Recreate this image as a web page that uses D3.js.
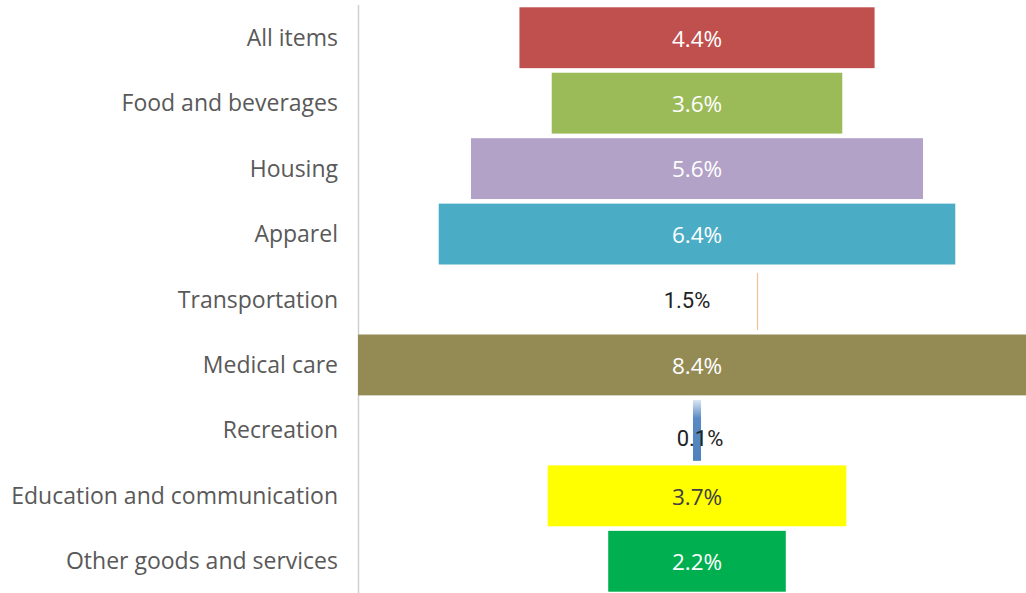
<!DOCTYPE html>
<meta charset="utf-8">
<style>
  body { margin: 0; background: #fff; }
</style>
<script src="https://d3js.org/d3.v7.min.js"></script>
<div id="my_dataviz"></div>
<script>
// data
var categories = ["All items", "Food and beverages", "Housing", "Apparel", "Transportation",
                  "Medical care", "Recreation", "Education and communication", "Other goods and services"];
var values = [4.4, 3.6, 5.6, 6.4, 1.5, 8.4, 0.1, 3.7, 2.2];
var labels = ["4.4%", "3.6%", "5.6%", "6.4%", "1.5%", "8.4%", "0.1%", "3.7%", "2.2%"];
var colors = ["#c0504d", "#9bbb59", "#b3a2c7", "#4bacc6", "#ffffff", "#948a54", "url(#recGrad)", "#ffff00", "#00b050"];

var width = 1026, height = 593, center = 697;

var svg = d3.select("#my_dataviz")
  .append("svg")
    .attr("width", width)
    .attr("height", height);

var defs = svg.append("defs");
var grad = defs.append("linearGradient")
    .attr("id", "recGrad")
    .attr("x1", 0).attr("y1", 1).attr("x2", 0).attr("y2", 0);
grad.append("stop").attr("offset", "0%").attr("stop-color", "#4f81bd");
grad.append("stop").attr("offset", "70%").attr("stop-color", "#5a8ac4");
grad.append("stop").attr("offset", "100%").attr("stop-color", "#dbe6f3");

// funnel: bars centred on the same x
var x = d3.scaleLinear()
  .domain([-4.2, 4.2])
  .range([center - 339, center + 339]);

var y = d3.scaleBand()
  .domain(categories)
  .range([5, 594])
  .paddingInner(0.07)
  .paddingOuter(0.035);

// category axis line
svg.append("line")
  .attr("x1", 358.5).attr("x2", 358.5)
  .attr("y1", 5).attr("y2", height)
  .attr("stroke", "#d0d0d0")
  .attr("stroke-width", 1.5);

var data = categories.map(function(c, i) {
  return {cat: c, v: values[i], label: labels[i], color: colors[i]};
});

svg.selectAll("rect.bar")
  .data(data)
  .enter()
  .append("rect")
    .attr("class", "bar")
    .attr("x", function(d) { return x(-d.v / 2); })
    .attr("y", function(d) { return y(d.cat); })
    .attr("width", function(d) { return x(d.v / 2) - x(-d.v / 2); })
    .attr("height", y.bandwidth())
    .attr("fill", function(d) { return d.color; });

// transportation bar is white, only a faint orange right edge shows
var tr = data[4];
svg.append("line")
  .attr("x1", x(tr.v / 2)).attr("x2", x(tr.v / 2))
  .attr("y1", y(tr.cat) + 4).attr("y2", y(tr.cat) + y.bandwidth())
  .attr("stroke", "#f8c090")
  .attr("stroke-width", 1.2);

// category labels
svg.selectAll("text.cat")
  .data(data)
  .enter()
  .append("text")
    .attr("class", "cat")
    .attr("x", 338)
    .attr("y", function(d) { return y(d.cat) + y.bandwidth() / 2; })
    .attr("dy", "0.35em")
    .attr("text-anchor", "end")
    .attr("font-family", "Open Sans, sans-serif")
    .attr("font-size", 23)
    .attr("fill", "#595959")
    .text(function(d) { return d.cat; });

// value labels
svg.selectAll("text.val")
  .data(data)
  .enter()
  .append("text")
    .attr("class", "val")
    .attr("x", function(d, i) { return i == 4 ? center - 10 : (i == 6 ? center + 3 : center); })
    .attr("y", function(d, i) { return y(d.cat) + y.bandwidth() / 2 + (i == 6 ? 8 : 1); })
    .attr("dy", "0.35em")
    .attr("text-anchor", "middle")
    .attr("font-family", function(d) { return d.v < 2 ? "Roboto, sans-serif" : "Open Sans, sans-serif"; })
    .attr("font-size", function(d) { return d.v < 2 ? 22 : 22.5; })
    .attr("fill", function(d, i) { return d.v < 2 ? "#222" : (i == 7 ? "#404040" : "#fff"); })
    .text(function(d) { return d.label; });
</script>
